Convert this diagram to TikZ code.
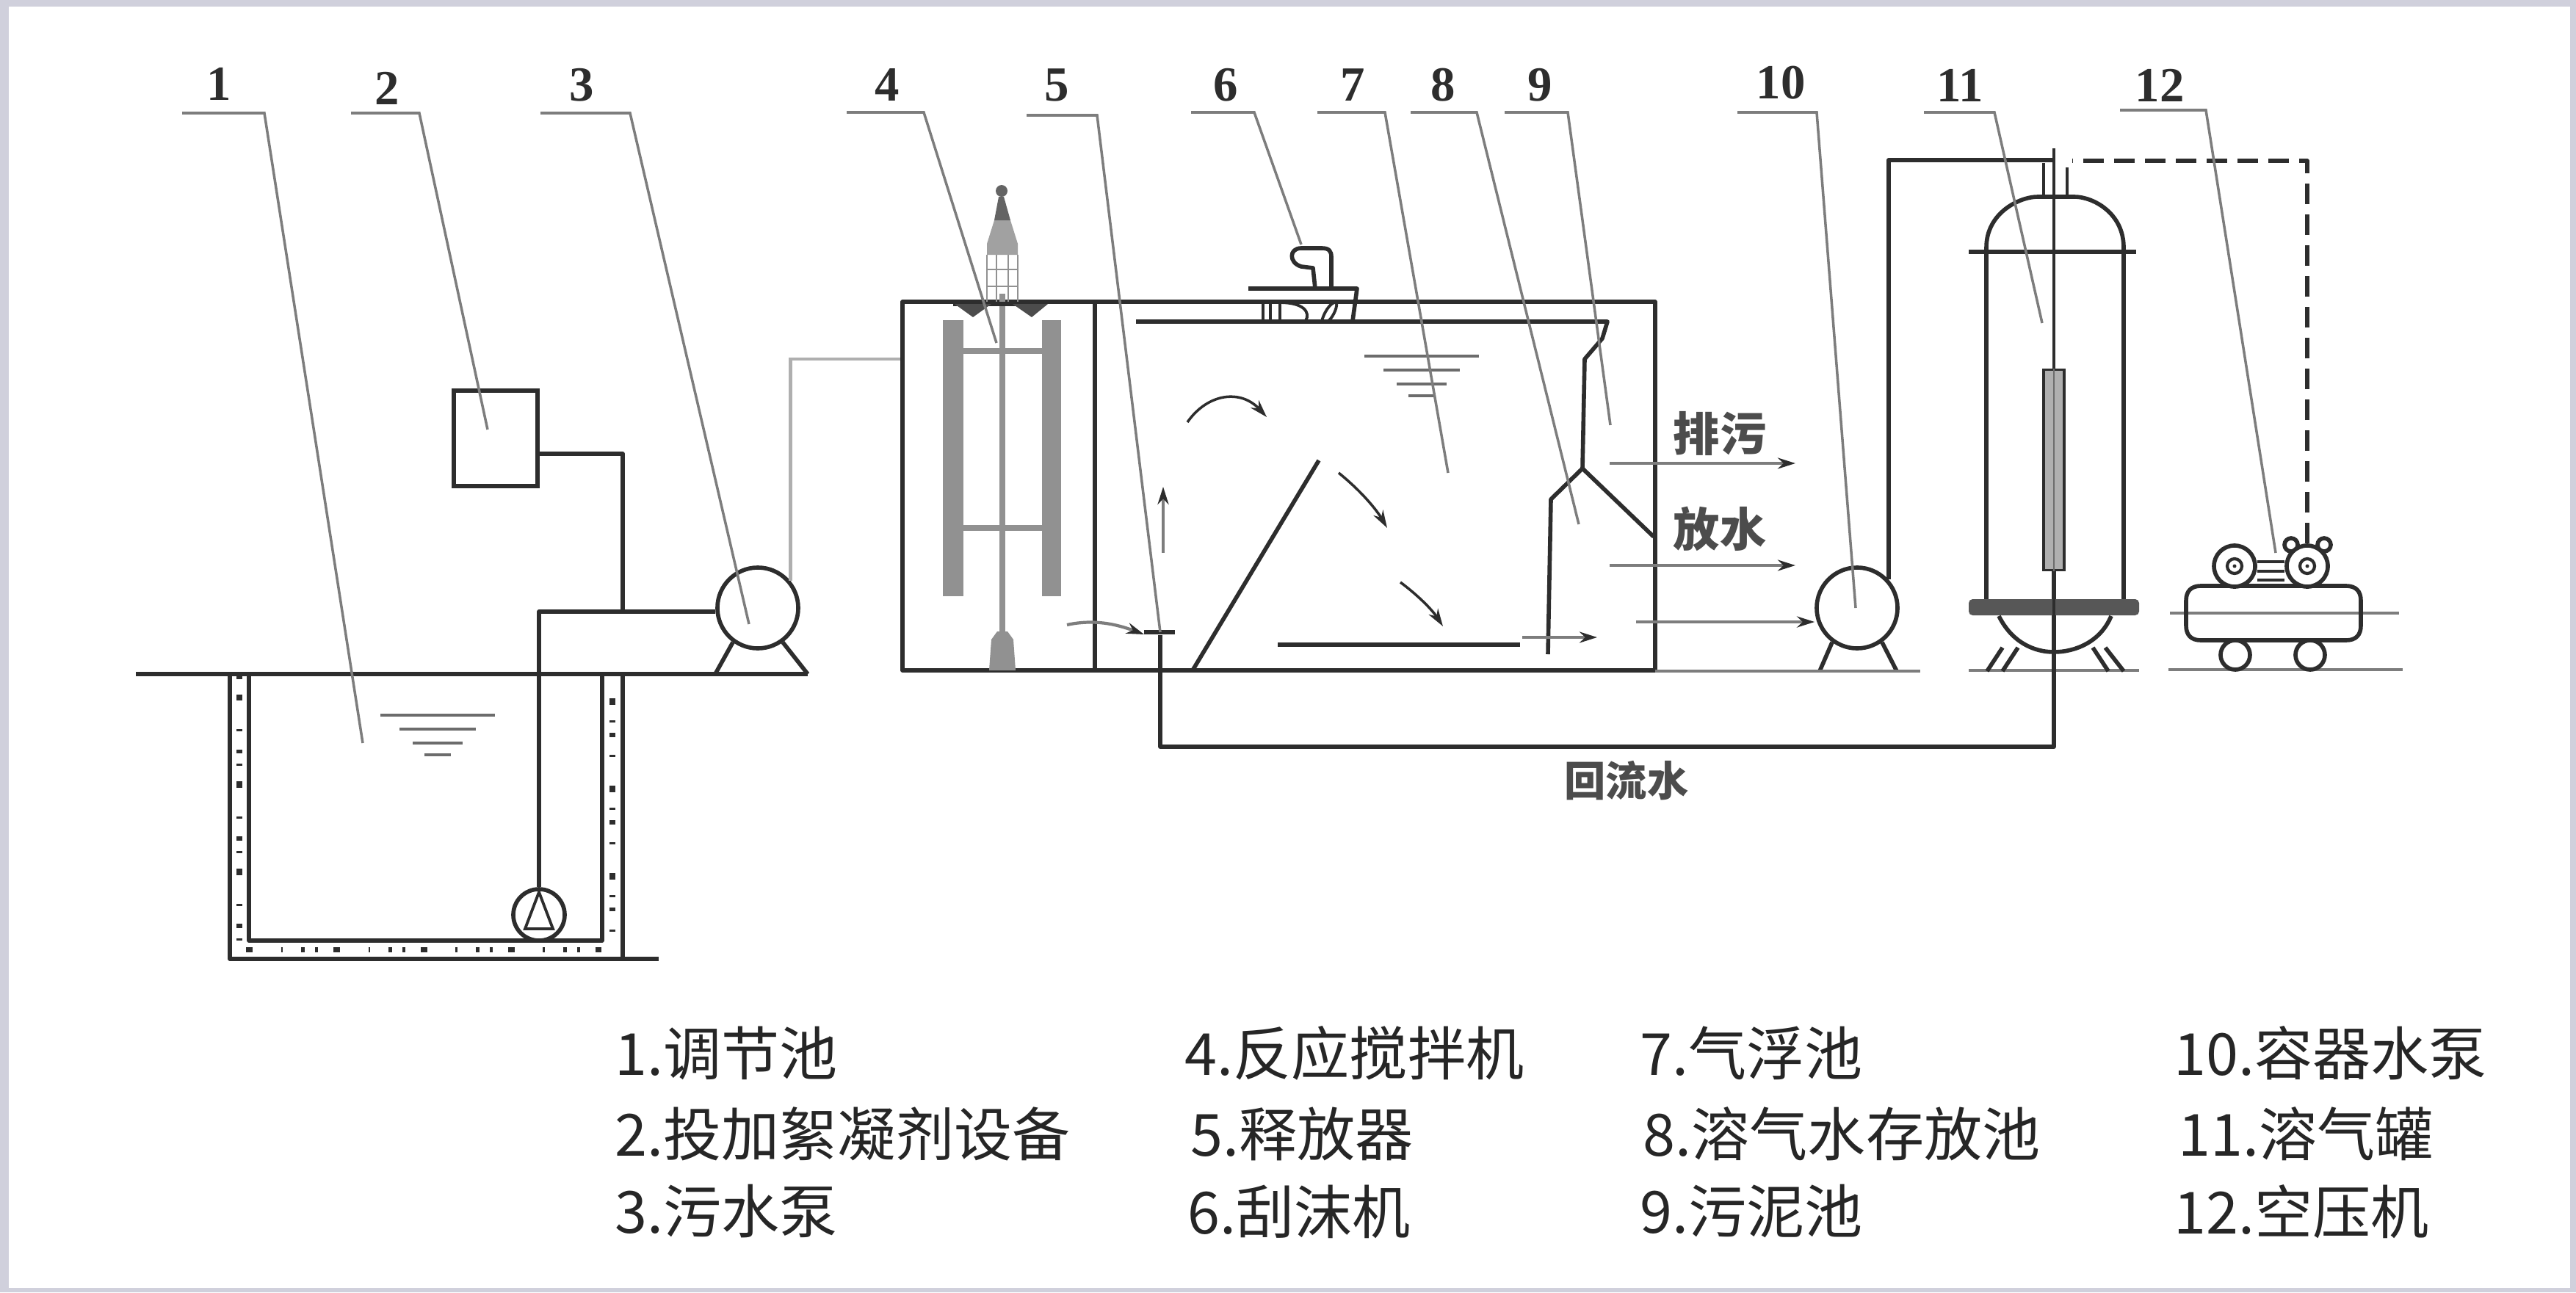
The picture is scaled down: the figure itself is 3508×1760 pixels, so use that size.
\documentclass[tikz,border=0pt]{standalone}
\usepackage{fontspec}
\setmainfont{Liberation Serif}
\newfontfamily\cjk{Noto Sans CJK SC}
\usetikzlibrary{arrows.meta,positioning}
\definecolor{framegrey}{RGB}{208,208,220}
\definecolor{ink}{RGB}{45,45,45}
\definecolor{leadgrey}{RGB}{125,125,125}
\definecolor{palegrey}{RGB}{175,175,175}
\definecolor{bladegrey}{RGB}{145,145,145}
\begin{document}
\begin{tikzpicture}[
  x=0.01cm, y=-0.01cm,
  pipe/.style={draw=ink, line width=1.6pt, line join=round},
  thinpipe/.style={draw=ink, line width=1.1pt},
  leader/.style={draw=leadgrey, line width=1pt},
  mixbar/.style={draw=bladegrey, line width=2pt},
  mixline/.style={draw=bladegrey, line width=0.8pt},
  floor/.style={draw=leadgrey, line width=1.4pt},
  pump/.style={circle, draw=ink, line width=1.6pt, fill=white, minimum size=1.1cm, inner sep=0pt},
  wheel/.style={circle, draw=ink, line width=1.6pt, fill=white, minimum size=#1, inner sep=0pt},
  numlabel/.style={font=\fontsize{19}{19}\selectfont\bfseries, text=ink, inner sep=0pt},
  legend/.style={anchor=west, font=\cjk\fontsize{22.5}{24}\selectfont, text=black!85, inner sep=0pt},
  flowtext/.style={font=\cjk\fontsize{#1}{#1}\selectfont\bfseries, text=ink!85, inner sep=0pt},
  flow/.style={draw=ink, line width=1pt, -{Stealth[length=0.24cm,width=0.15cm]}},
  outflow/.style={draw=leadgrey, line width=1.2pt, -{Stealth[length=0.24cm,width=0.15cm,color=ink]}}
]
\useasboundingbox (0,0) rectangle (3508,1760);
\fill[framegrey] (0,0) rectangle (3508,1760);
\fill[white] (12,9) rectangle (3500,1754);

\foreach \n/\xn/\yn/\xa/\xb/\ya/\xc/\yc in {
  1/298/114/248/360/154/494/1012, 2/527/120/478/571/154/664/585, 3/792/116/736/858/154/1020/850,
  4/1208/116/1153/1258/153/1357/467, 5/1439/116/1398/1494/157/1580/861, 6/1669/116/1622/1708/153/1772/333,
  7/1842/116/1794/1886/153/1972/644, 8/1965/116/1921/2011/153/2150/714, 9/2097/116/2049/2135/153/2193/579,
  10/2425/113/2366/2474/153/2527/828, 11/2669/116/2620/2716/153/2781/440, 12/2941/116/2887/3004/150/3099/753}{
  \node[numlabel] (n\n) at (\xn,\yn) {\n};
  \coordinate (la\n) at (\xa,\ya);
  \coordinate (lb\n) at (\xb,\ya);
  \coordinate (lc\n) at (\xc,\yc);
}

\coordinate (g1) at (185,918);
\coordinate (g2) at (1100,918);
\draw[pipe] (g1) -- (g2);
\draw[draw=ink, line width=2pt, dash pattern=on 1pt off 6pt on 2.5pt off 11pt on 0.8pt off 7pt on 1.5pt off 4pt] (326,921) -- (326,1293) -- (834,1293) -- (834,921);
\draw[pipe] (313,918) -- (313,1306) -- (897,1306);
\draw[pipe] (848,918) -- (848,1306);
\draw[pipe] (339,918) -- (339,1281) -- (820,1281) -- (820,918);
\foreach \cx/\cy in {596/974,1936/485}
  \foreach \w/\d in {78/0,52/19,34/38,18/54}
    \draw[thinpipe, draw=ink!70] (\cx-\w,\cy+\d) -- (\cx+\w,\cy+\d);

\node[draw=ink, line width=1.6pt, minimum width=1.14cm, minimum height=1.3cm, inner sep=0pt, fill=white] (dosing) at (675,597) {};
\node[pump] (pumpA) at (1032,828) {};
\node[pump] (pumpB) at (2529,828) {};
\node[pump, minimum size=0.7cm] (subpump) at (734,1246) {};
\draw[thinpipe] (734,1215) -- (753,1265) -- (715,1265) -- cycle;
\coordinate (dj) at (848,833);
\coordinate (rj) at (734,833);
\draw[pipe] ([yshift=-0.21cm]dosing.east) -| (dj);
\draw[pipe] (pumpA.west |- dj) -- (rj) -- (subpump.north);
\draw[pipe] (pumpA.-126) -- (974,918);
\draw[pipe] (pumpA.-54) -- (1100,918);
\draw[pipe] (pumpB.-126) -- (2478,914);
\draw[pipe] (pumpB.-54) -- (2583,914);

\draw[draw=palegrey, line width=1.3pt] (pumpA.40) |- (1229,489);

\draw[pipe] (1229,411) rectangle (2254,913);
\draw[pipe] (1491,411) -- (1491,913);
\draw[pipe] (1547,438) -- (2189,438) -- (2182,461) -- (2158,489) -- (2155,638) -- (2112,680) -- (2108,891);
\draw[pipe] (2155,638) -- (2252,731);
\draw[pipe] (1796,627) -- (1624,913);
\draw[pipe] (1740,878) -- (2070,878);

\fill[bladegrey] (1284,436) rectangle (1312,812);
\fill[bladegrey] (1419,436) rectangle (1445,812);
\draw[mixbar] (1288,478) -- (1442,478);
\draw[mixbar] (1288,719) -- (1442,719);
\draw[mixbar] (1365,400) -- (1365,871);
\foreach \xm in {1344,1357,1373,1386}
  \draw[mixline] (\xm,347) -- (\xm,411);
\draw[mixline] (1344,367) -- (1386,367);
\draw[mixline] (1344,390) -- (1386,390);
\fill[bladegrey!85] (1344,347) -- (1344,332) -- (1354,300) -- (1376,300) -- (1386,332) -- (1386,347) -- cycle;
\fill[bladegrey!55!ink] (1354,300) -- (1360,268) -- (1367,268) -- (1376,300) -- cycle;
\fill[bladegrey!55!ink] (1364,260) circle [radius=8];
\fill[bladegrey] (1350,871) -- (1358,860) -- (1372,860) -- (1380,871) -- (1383,913) -- (1347,913) -- cycle;
\draw[pipe] (1298,414) -- (1424,414);
\fill[ink!85] (1300,414) -- (1350,414) -- (1325,432) -- cycle;
\fill[ink!85] (1379,414) -- (1427,414) -- (1405,432) -- cycle;

\draw[pipe] (1700,393) -- (1848,393) -- (1842,437);
\draw[pipe] (1791,393) -- (1788,365) -- (1772,363) .. controls (1755,358) and (1755,338) .. (1772,338) -- (1800,338) .. controls (1810,338) and (1813,342) .. (1813,350) -- (1813,393);
\draw[thinpipe] (1720,412) -- (1720,437);
\draw[thinpipe] (1730,412) -- (1730,437);
\draw[thinpipe] (1743,437) -- (1743,412) .. controls (1775,412) and (1785,425) .. (1778,437);
\draw[thinpipe] (1800,437) .. controls (1805,420) and (1815,410) .. (1820,412) .. controls (1822,420) and (1812,437) .. (1808,437);

\draw[flow] (1617,575) .. controls (1645,535) and (1690,530) .. (1725,568);
\draw[flow] (1823,644) .. controls (1855,670) and (1875,695) .. (1889,719);
\draw[flow] (1907,793) .. controls (1930,810) and (1950,830) .. (1965,853);
\draw[outflow] (1584,753) -- (1584,663);
\draw[outflow] (1453,851) .. controls (1490,843) and (1520,850) .. (1558,864);
\draw[outflow] (2073,868) -- (2175,868);
\draw[pipe] (1558,861) -- (1600,861);

\coordinate (ej1) at (2192,631);
\coordinate (ej2) at (2445,631);
\coordinate (ej3) at (2192,770);
\coordinate (ej4) at (2445,770);
\coordinate (ej5) at (2228,847);
\draw[outflow] (ej1) -- (ej2);
\draw[outflow] (ej3) -- (ej4);
\draw[outflow] (ej5) -- (pumpB.west |- ej5);
\node[flowtext=18] (paiwu) at (2342,590) {排污};
\node[flowtext=18] (fangshui) at (2342,720) {放水};
\node[flowtext=16] (huiliu) at (2215,1063) {回流水};

\draw[floor] (2254,914) -- (2615,914);
\draw[floor] (2681,913) -- (2913,913);
\draw[floor] (2953,912) -- (3272,912);

\node[draw=ink, line width=1pt, fill=palegrey, minimum width=0.28cm, minimum height=2.73cm, inner sep=0pt] (tube) at (2797,640) {};
\coordinate (topJ) at (2797,218);
\coordinate (topE) at (2797,202);
\coordinate (topK) at (2822,219);
\coordinate (retJ) at (2797,1017);
\coordinate (relpt) at (1580,865);
\draw[pipe] (pumpB.42) |- (topJ);
\draw[pipe] (relpt) |- (retJ) -- (tube.south);
\draw[thinpipe] (topE) -- (tube.north);
\draw[thinpipe, draw=ink!70, line width=0.8pt] (tube.north) -- (tube.south);
\draw[pipe] (2705,819) -- (2705,337) .. controls (2705,290) and (2750,268) .. (2775,268) -- (2825,268) .. controls (2850,268) and (2892,290) .. (2892,337) -- (2892,819);
\draw[pipe] (2722,839) .. controls (2740,875) and (2770,888) .. (2797,888) .. controls (2825,888) and (2860,875) .. (2875,839);
\draw[thinpipe] (2783,222) -- (2783,268);
\draw[thinpipe] (2815,228) -- (2815,268);
\draw[ink, line width=1.8pt] (2681,343) -- (2909,343);
\fill[ink!80, rounded corners=1.5pt] (2681,816) rectangle (2913,838);
\draw[thinpipe] (2797,816) -- (2797,1017);
\foreach \xa/\xb in {2727/2706,2748/2727,2850/2871,2867/2892}
  \draw[pipe] (\xa,882) -- (\xb,914);

\draw[leadgrey, line width=1.2pt] (2955,835) -- (3267,835);
\draw[pipe] (2997,798) -- (3195,798) .. controls (3208,798) and (3215,805) .. (3215,818) -- (3215,852) .. controls (3215,865) and (3208,872) .. (3195,872) -- (2997,872) .. controls (2984,872) and (2977,865) .. (2977,852) -- (2977,818) .. controls (2977,805) and (2984,798) .. (2997,798) -- cycle;
\node[wheel=0.4cm] (wheelA) at (3044,892) {};
\node[wheel=0.4cm] (wheelB) at (3146,892) {};
\foreach \b/\bx in {ballA/3120,ballB/3165}
  \node[wheel=0.18cm] (\b) at (\bx,742) {};
\node[wheel=0.56cm] (flyA) at (3043,771) {};
\node[wheel=0.56cm] (flyB) at (3142,771) {};
\foreach \yb in {-6,7,19}
  \draw[thinpipe] ([yshift=-\yb*0.01cm]flyA.east) -- ([yshift=-\yb*0.01cm]flyB.west);
\foreach \f in {flyA,flyB}{
  \node[wheel=0.2cm, line width=1.2pt] (\f hub) at (\f) {};
  \fill[ink] (\f) circle [radius=2.5];
}
\draw[pipe, dash pattern=on 0.28cm off 0.14cm] (flyB.north) |- (topK);

\foreach \n in {1,...,12}
  \draw[leader] (la\n) -- (lb\n) -- (lc\n);

\foreach \x/\y/\t [count=\i] in {
  837/1434/1.调节池, 837/1544/2.投加絮凝剂设备, 837/1650/3.污水泵,
  1613/1434/4.反应搅拌机, 1621/1544/5.释放器, 1617/1650/6.刮沫机,
  2233/1434/7.气浮池, 2237/1544/8.溶气水存放池, 2233/1650/9.污泥池,
  2960/1434/10.容器水泵, 2966/1544/11.溶气罐, 2960/1650/12.空压机}
  \node[legend] (item\i) at (\x,\y) {\t};
\end{tikzpicture}
\end{document}
